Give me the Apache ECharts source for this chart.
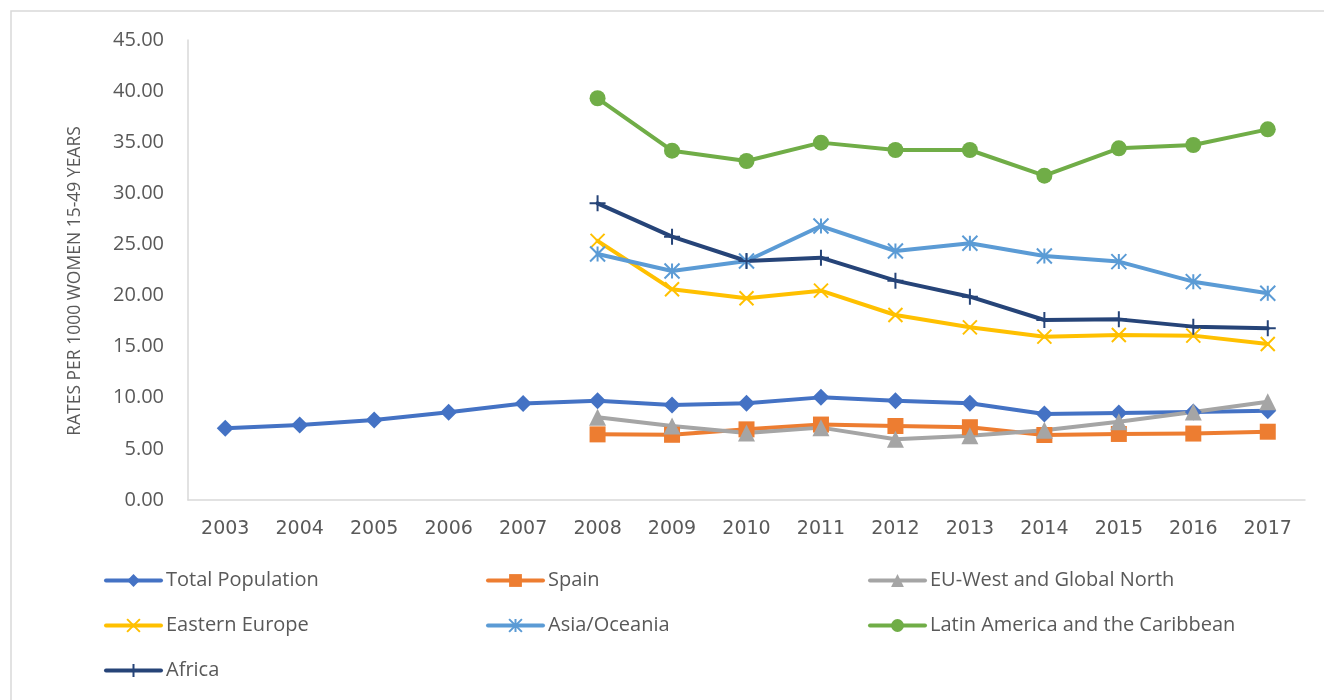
<!DOCTYPE html>
<html>
<head>
<meta charset="utf-8">
<script src="https://cdn.jsdelivr.net/npm/echarts@6/dist/echarts.min.js"></script>
<style>
  html, body { margin: 0; padding: 0; background: #ffffff; }
  #chart { width: 1324px; height: 700px; }
</style>
</head>
<body>
<div id="chart"></div>
<script>
// Years on the category axis
const years = ['2003', '2004', '2005', '2006', '2007', '2008', '2009', '2010',
               '2011', '2012', '2013', '2014', '2015', '2016', '2017'];

// Rates per 1000 women aged 15-49, by origin group
const totalPopulation = [7.01, 7.34, 7.83, 8.58, 9.44, 9.70, 9.29, 9.46, 10.04, 9.72, 9.46, 8.41, 8.52, 8.62, 8.72];
const spain           = [null, null, null, null, null, 6.42, 6.38, 6.91, 7.38, 7.24, 7.12, 6.36, 6.46, 6.50, 6.68];
const euWestNorth     = [null, null, null, null, null, 8.10, 7.25, 6.55, 7.08, 5.95, 6.28, 6.82, 7.66, 8.60, 9.62];
const easternEurope   = [null, null, null, null, null, 25.35, 20.61, 19.73, 20.48, 18.10, 16.89, 15.98, 16.14, 16.08, 15.26];
const asiaOceania     = [null, null, null, null, null, 24.07, 22.40, 23.38, 26.80, 24.36, 25.11, 23.87, 23.32, 21.36, 20.22];
const latinAmerica    = [null, null, null, null, null, 39.30, 34.17, 33.16, 34.96, 34.24, 34.24, 31.73, 34.40, 34.73, 36.26];
const africa          = [null, null, null, null, null, 29.02, 25.76, 23.38, 23.71, 21.46, 19.89, 17.61, 17.67, 16.96, 16.79];

// Y axis ticks
const yMin = 0, yMax = 45, yStep = 5;

const textGrey = '#595959';
const axisGrey = '#D9D9D9';

// Stroked marker shapes
const crossX    = 'path://M0,0L10,10M10,0L0,10';
const asterisk  = 'path://M0,0L10,10M10,0L0,10M5,0L5,10';
const plusMark  = 'path://M5,0L5,10M0,5L10,5';

function makeLine(name, data, color, symbol, size, stroked) {
  return {
    name: name,
    type: 'line',
    data: data,
    symbol: symbol,
    symbolSize: size,
    showAllSymbol: true,
    connectNulls: false,
    lineStyle: { color: color, width: 4, cap: 'round', join: 'round' },
    itemStyle: stroked
      ? { color: color, borderColor: color, borderWidth: 2 }
      : { color: color, borderWidth: 0 },
    emphasis: { disabled: true }
  };
}

const chart = echarts.init(document.getElementById('chart'), null, { renderer: 'canvas' });

chart.setOption({
  animation: false,
  backgroundColor: '#ffffff',
  graphic: [{
    type: 'rect',
    shape: { x: 11, y: 11, width: 1340, height: 720 },
    style: { fill: 'none', stroke: axisGrey, lineWidth: 1.5 },
    silent: true,
    z: -1
  }],
  grid: { left: 188, right: 19, top: 40, bottom: 200, containLabel: false },
  xAxis: {
    type: 'category',
    data: years,
    boundaryGap: true,
    axisLine: { show: true, lineStyle: { color: axisGrey, width: 1.5 } },
    axisTick: { show: false },
    axisLabel: { color: textGrey, fontFamily: 'DejaVu Sans', fontSize: 19, margin: 20 },
    splitLine: { show: false }
  },
  yAxis: {
    type: 'value',
    min: yMin,
    max: yMax,
    interval: yStep,
    name: 'RATES PER 1000 WOMEN 15-49 YEARS',
    nameLocation: 'middle',
    nameRotate: 90,
    nameGap: 104,
    nameTextStyle: { color: textGrey, fontFamily: 'Open Sans', fontSize: 17.5, padding: [0, 0, 0, -22] },
    axisLine: { show: true, lineStyle: { color: axisGrey, width: 1.5 } },
    axisTick: { show: false },
    axisLabel: {
      color: textGrey, fontFamily: 'Open Sans', fontSize: 20, margin: 24,
      formatter: v => v.toFixed(2)
    },
    splitLine: { show: false }
  },
  legend: {
    left: 104,
    top: 558,
    padding: 0,
    width: 1200,
    itemWidth: 55,
    itemHeight: 16,
    itemGap: 0,
    selectedMode: false,
    lineStyle: { width: 4 },
    textStyle: {
      color: textGrey, fontFamily: 'Open Sans', fontSize: 20,
      width: 320, lineHeight: 45, overflow: 'none'
    }
  },
  series: [
    makeLine('Total Population', totalPopulation, '#4472C4', 'diamond', 17, false),
    makeLine('Spain', spain, '#ED7D31', 'rect', 16, false),
    makeLine('EU-West and Global North', euWestNorth, '#A5A5A5', 'triangle', 17, false),
    makeLine('Eastern Europe', easternEurope, '#FFC000', crossX, 14, true),
    makeLine('Asia/Oceania', asiaOceania, '#5B9BD5', asterisk, 15, true),
    makeLine('Latin America and the Caribbean', latinAmerica, '#70AD47', 'circle', 16, false),
    makeLine('Africa', africa, '#264478', plusMark, 16, true)
  ]
});
</script>
</body>
</html>
